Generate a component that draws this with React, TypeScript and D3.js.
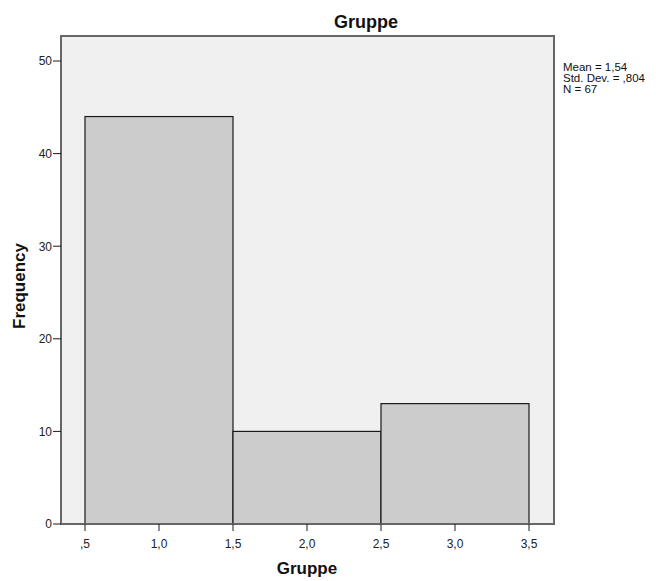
import React from "react";
import * as d3 from "d3";

const binStarts = [0.5, 1.5, 2.5];
const binEnds = [1.5, 2.5, 3.5];
const frequencies = [44, 10, 13];
const xTicks = [0.5, 1.0, 1.5, 2.0, 2.5, 3.0, 3.5];
const xTickLabels = [",5", "1,0", "1,5", "2,0", "2,5", "3,0", "3,5"];
const yTicks = [0, 10, 20, 30, 40, 50];
const statsLines = ["Mean = 1,54", "Std. Dev. = ,804", "N = 67"];

export default function App() {
  const W = 656, H = 581;
  const left = 61, right = 554, top = 36, bottom = 524;
  const x = d3.scaleLinear().domain([0.5, 3.5]).range([85, 529]);
  const y = d3.scaleLinear().domain([0, 50]).range([524, 61]);
  const font = "Arial, 'Liberation Sans', sans-serif";
  return (
    <svg width={W} height={H} style={{ position: "absolute", left: 0, top: 0 }} fontFamily={font}>
      <rect x={0} y={0} width={W} height={H} fill="#ffffff" />
      <rect x={left} y={top} width={right - left} height={bottom - top} fill="#f0f0f0" />
      {frequencies.map((f, i) => (
        <rect
          key={i}
          x={x(binStarts[i])}
          y={y(f)}
          width={x(binEnds[i]) - x(binStarts[i])}
          height={y(0) - y(f)}
          fill="#cccccc"
          stroke="#1a1a1a"
          strokeWidth={1.2}
        />
      ))}
      <rect x={left} y={top} width={right - left} height={bottom - top} fill="none" stroke="#666666" strokeWidth={2} />
      {yTicks.map((t) => (
        <g key={t}>
          <line x1={left - 8} x2={left} y1={y(t)} y2={y(t)} stroke="#1a1a1a" strokeWidth={1} />
          <text x={left - 9} y={y(t)} dy="0.36em" textAnchor="end" fontSize={12} fill="#222">{t}</text>
        </g>
      ))}
      {xTicks.map((t, i) => (
        <g key={t}>
          <line x1={x(t)} x2={x(t)} y1={bottom} y2={bottom + 7} stroke="#1a1a1a" strokeWidth={1} />
          <text x={x(t)} y={bottom + 24} textAnchor="middle" fontSize={12} fill="#222">{xTickLabels[i]}</text>
        </g>
      ))}
      <text x={366} y={28} textAnchor="middle" fontSize={18} fontWeight="bold" fill="#111">Gruppe</text>
      <text x={307} y={574} textAnchor="middle" fontSize={17} fontWeight="bold" fill="#111">Gruppe</text>
      <text transform={`translate(25, 286) rotate(-90)`} textAnchor="middle" fontSize={17} fontWeight="bold" fill="#111">Frequency</text>
      {statsLines.map((s, i) => (
        <text key={i} x={563} y={71 + i * 10.8} fontSize={11.5} fill="#111">{s}</text>
      ))}
    </svg>
  );
}
